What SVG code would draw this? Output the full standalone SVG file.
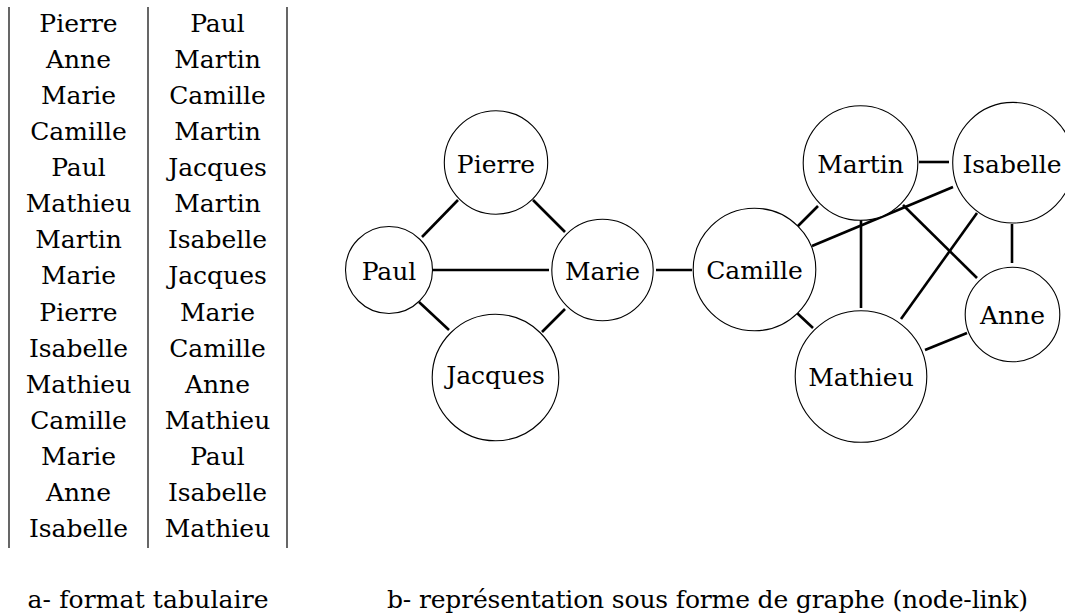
<svg xmlns="http://www.w3.org/2000/svg" width="1065" height="615" viewBox="0 0 1065 615">
<style>
text{font-family:'DejaVu Serif','Liberation Serif',serif;font-size:25px;fill:#000}
.c{text-anchor:middle}
.node circle{fill:#fff;stroke:#000;stroke-width:1.1}
#edges line{stroke:#000;stroke-width:2.6}
#table line{stroke:#000;stroke-width:1.2}
</style>
<rect width="1065" height="615" fill="#fff"/>
<g id="table">
<line x1="9" y1="7" x2="9" y2="548"/>
<line x1="148" y1="7" x2="148" y2="548"/>
<line x1="287" y1="7" x2="287" y2="548"/>
<g class="c">
<text class="c" x="78.5" y="32">Pierre</text><text class="c" x="217.5" y="32">Paul</text>
<text class="c" x="78.5" y="68">Anne</text><text class="c" x="217.5" y="68">Martin</text>
<text class="c" x="78.5" y="104">Marie</text><text class="c" x="217.5" y="104">Camille</text>
<text class="c" x="78.5" y="140">Camille</text><text class="c" x="217.5" y="140">Martin</text>
<text class="c" x="78.5" y="176">Paul</text><text class="c" x="217.5" y="176">Jacques</text>
<text class="c" x="78.5" y="212">Mathieu</text><text class="c" x="217.5" y="212">Martin</text>
<text class="c" x="78.5" y="248">Martin</text><text class="c" x="217.5" y="248">Isabelle</text>
<text class="c" x="78.5" y="284">Marie</text><text class="c" x="217.5" y="284">Jacques</text>
<text class="c" x="78.5" y="321">Pierre</text><text class="c" x="217.5" y="321">Marie</text>
<text class="c" x="78.5" y="357">Isabelle</text><text class="c" x="217.5" y="357">Camille</text>
<text class="c" x="78.5" y="393">Mathieu</text><text class="c" x="217.5" y="393">Anne</text>
<text class="c" x="78.5" y="429">Camille</text><text class="c" x="217.5" y="429">Mathieu</text>
<text class="c" x="78.5" y="465">Marie</text><text class="c" x="217.5" y="465">Paul</text>
<text class="c" x="78.5" y="501">Anne</text><text class="c" x="217.5" y="501">Isabelle</text>
<text class="c" x="78.5" y="537">Isabelle</text><text class="c" x="217.5" y="537">Mathieu</text>
</g>
</g>
<g id="edges">
<line x1="422" y1="237" x2="458" y2="200"/>
<line x1="533" y1="200" x2="565" y2="232"/>
<line x1="433" y1="270" x2="549" y2="270"/>
<line x1="419" y1="302" x2="449" y2="330"/>
<line x1="565" y1="309" x2="542" y2="332"/>
<line x1="656" y1="270" x2="692" y2="270"/>
<line x1="797" y1="227" x2="818" y2="206"/>
<line x1="812" y1="246" x2="953" y2="187"/>
<line x1="919" y1="162" x2="949" y2="162"/>
<line x1="861" y1="220" x2="861" y2="308"/>
<line x1="903" y1="205" x2="977" y2="278"/>
<line x1="977" y1="213" x2="901" y2="319"/>
<line x1="1012" y1="224" x2="1012" y2="263"/>
<line x1="797" y1="313" x2="813" y2="328"/>
<line x1="925" y1="350" x2="967" y2="333"/>
</g>
<g id="node-pierre" class="node"><circle cx="496" cy="162.5" r="51.7"/><text class="c" x="496" y="172.5">Pierre</text></g>
<g id="node-paul" class="node"><circle cx="389" cy="270" r="43.5"/><text class="c" x="389" y="280">Paul</text></g>
<g id="node-marie" class="node"><circle cx="602.5" cy="270" r="50.7"/><text class="c" x="602.5" y="280">Marie</text></g>
<g id="node-jacques" class="node"><circle cx="495.5" cy="377.5" r="63.3"/><text class="c" x="495.5" y="383.5">Jacques</text></g>
<g id="node-camille" class="node"><circle cx="754.5" cy="269.5" r="61.3"/><text class="c" x="754.5" y="279">Camille</text></g>
<g id="node-martin" class="node"><circle cx="860.5" cy="163" r="57.3"/><text class="c" x="860.5" y="172.7">Martin</text></g>
<g id="node-isabelle" class="node"><circle cx="1013" cy="162.7" r="60.3"/><text class="c" x="1012" y="172.7">Isabelle</text></g>
<g id="node-anne" class="node"><circle cx="1012.5" cy="314.5" r="47.3"/><text class="c" x="1012.5" y="324">Anne</text></g>
<g id="node-mathieu" class="node"><circle cx="861" cy="376.5" r="65.8"/><text class="c" x="861" y="386">Mathieu</text></g>
<g id="captions">
<text x="27.5" y="608" textLength="241" lengthAdjust="spacing">a- format tabulaire</text>
<text x="387" y="608" textLength="641" lengthAdjust="spacing">b- représentation sous forme de graphe (node-link)</text>
</g>
</svg>
